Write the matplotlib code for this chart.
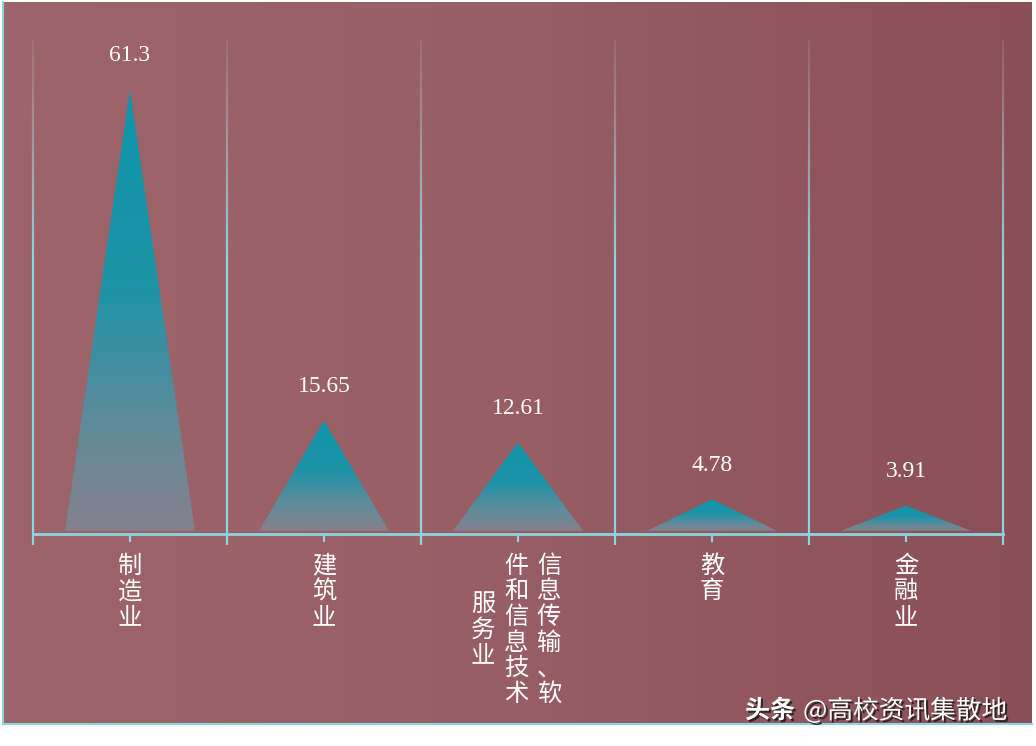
import numpy as np
import matplotlib
matplotlib.use('Agg')
import matplotlib.pyplot as plt
from matplotlib.colors import LinearSegmentedColormap, to_rgba
from matplotlib.patches import Polygon
from matplotlib.collections import LineCollection
import matplotlib.patheffects as pe

plt.rcParams['font.family'] = ['Noto Sans CJK SC', 'DejaVu Sans']

# ---------------- data ----------------
categories = ['制造业', '建筑业', '信息传输、软件和信息技术服务业', '教育', '金融业']
values = [61.3, 15.65, 12.61, 4.78, 3.91]
value_labels = ['61.3', '15.65', '12.61', '4.78', '3.91']
# how each category label is wrapped into vertical columns (right to left)
label_columns = [['制造业'], ['建筑业'], ['信息传输、软', '件和信息技术', '服务业'], ['教育'], ['金融业']]
watermark_bold = '头条'
watermark_rest = '@高校资讯集散地'

# ---------------- figure ----------------
W, H = 1036, 746
DPI = 100
fig = plt.figure(figsize=(W / DPI, H / DPI), dpi=DPI)
fig.patch.set_facecolor('white')
PT = 72.0 / DPI  # points per pixel

LINE_BLUE = '#8ad6e0'

# background panel with horizontal gradient
bg = fig.add_axes([3 / W, 1 - 724 / H, 1029 / W, 722 / H])
bg_cmap = LinearSegmentedColormap.from_list('bg', ['#9d656a', '#975e65', '#8b4e57'])
bg.imshow(np.linspace(0, 1, 256).reshape(1, -1), aspect='auto', cmap=bg_cmap,
          extent=(0, 1, 0, 1), interpolation='bilinear')
bg.set_xlim(0, 1)
bg.set_ylim(0, 1)
bg.set_xticks([])
bg.set_yticks([])
for s in ['top', 'right']:
    bg.spines[s].set_visible(False)
for s in ['left', 'bottom']:
    bg.spines[s].set_color(LINE_BLUE)
    bg.spines[s].set_linewidth(1.5)

# main axes
ax = fig.add_axes([33 / W, 1 - 534 / H, 970 / W, 494 / H])
ax.patch.set_alpha(0)
n = len(categories)
YMAX = 68.2

# triangles with vertical gradient
tri_cmap = LinearSegmentedColormap.from_list(
    'tri', [(0.0, '#86808e'), (0.25, '#5e8c9b'), (0.55, '#1d93a7'), (1.0, '#0f95aa')])
hw = 0.335
base_y = 0.45
for i, v in enumerate(values):
    poly = Polygon([[i - hw, base_y], [i, v], [i + hw, base_y]], closed=True,
                   facecolor='none', edgecolor='none')
    ax.add_patch(poly)
    im = ax.imshow(np.linspace(0, 1, 256).reshape(-1, 1), cmap=tri_cmap, origin='lower',
                   extent=(i - hw, i + hw, base_y, v), aspect='auto',
                   interpolation='bilinear', zorder=2)
    im.set_clip_path(poly)

ax.set_xlim(-0.5, n - 0.5)
ax.set_ylim(0, YMAX)

# category separators, fading towards the top
sep_x = np.arange(n + 1) - 0.5
below = 11 / (494 / YMAX)
ys = np.linspace(-below, YMAX, 120)
base_rgba = np.array(to_rgba(LINE_BLUE))
grey = np.array([0.75, 0.72, 0.76, 1.0])
segs, cols = [], []
for x in sep_x:
    for y0, y1 in zip(ys[:-1], ys[1:]):
        segs.append([(x, y0), (x, y1)])
        ym = 0.5 * (y0 + y1)
        t = 0 if ym < 38 else (ym - 38) / (YMAX - 38)
        c = base_rgba * (1 - t) + grey * t
        c[3] = max(0.15, 1 - 0.85 * t)
        cols.append(c)
lc = LineCollection(segs, colors=cols, linewidths=1.6, clip_on=False, zorder=3,
                    capstyle='butt')
ax.add_collection(lc)

# axis styling
for s in ['top', 'right', 'left']:
    ax.spines[s].set_visible(False)
ax.spines['bottom'].set_color(LINE_BLUE)
ax.spines['bottom'].set_linewidth(2)
ax.spines['bottom'].set_zorder(4)
ax.set_yticks([])
ax.set_xticks(range(n))
ax.set_xticklabels([''] * n)
ax.tick_params(axis='x', length=6, width=1.6, color=LINE_BLUE, direction='out')

# value labels
for i, (v, lbl) in enumerate(zip(values, value_labels)):
    ax.annotate(lbl, (i, v), xytext=(0, 34 * PT), textcoords='offset points',
                ha='center', va='center', fontsize=17, color='white',
                family=['Liberation Serif', 'DejaVu Serif'], zorder=5)

# vertical category labels (stacked characters, columns right-to-left)
pitch = 25.6  # px
top_gap = 19  # px below the axis line
col_gap = 33  # px
for i, cols_txt in enumerate(label_columns):
    ncol = len(cols_txt)
    maxlen = max(len(c) for c in cols_txt)
    if ncol == 1:
        xoffs = [0]
    else:
        xoffs = [31 - k * col_gap for k in range(ncol)]
    for k, col in enumerate(cols_txt):
        start = top_gap + (maxlen - len(col)) * pitch / 2
        for j, ch in enumerate(col):
            ax.annotate(ch, (i, 0), xytext=(xoffs[k] * PT, -(start + j * pitch + pitch / 2) * PT),
                        textcoords='offset points', ha='center', va='center',
                        fontsize=17.5, color='white', fontweight='medium',
                        annotation_clip=False)

# watermark
shadow = [pe.SimplePatchShadow(offset=(1.5, -1.5), shadow_rgbFace='#202020', alpha=0.9),
          pe.Normal()]
fig.text(745 / W, 1 - 711 / H, watermark_bold, ha='left', va='center', fontsize=18,
         color='white', fontweight='bold', path_effects=shadow)
fig.text(803 / W, 1 - 711 / H, watermark_rest, ha='left', va='center', fontsize=18.5,
         color='white', fontweight='medium', path_effects=shadow)

fig.savefig('out.png', dpi=DPI, facecolor='white')
